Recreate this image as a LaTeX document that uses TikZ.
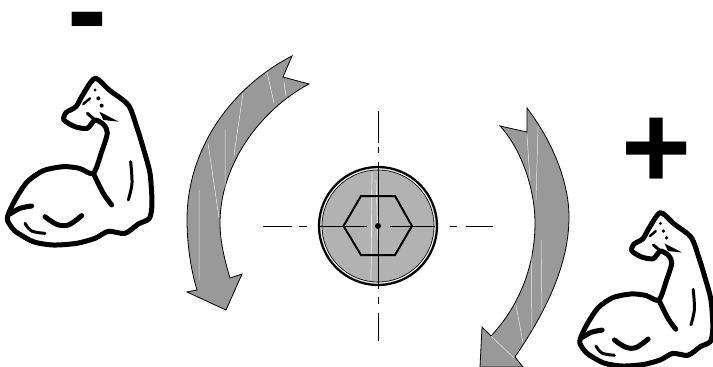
\documentclass[tikz,border=0pt]{standalone}
\usepackage{fontspec}
\setsansfont{Liberation Sans}
\usepackage{tikz}
\usetikzlibrary{positioning, calc}

\definecolor{arrowgray}{HTML}{999999}
\definecolor{screwgray}{HTML}{B2B2B2}

\tikzset{
    muscleline/.style={line width=5pt, line join=round, line cap=round},
    musclefill/.style={muscleline, fill=white},
    turnarrow/.style={draw=black, line width=0.8pt, fill=arrowgray, line join=miter},
    streak/.style={white!80!arrowgray, line width=0.5pt},
    centerline/.style={black, line width=0.9pt},
    signtext/.style={font=\fontsize{120}{120}\sffamily\bfseries, inner sep=0pt, text=black},
    % biceps drawn in the pixels of a 3x crop
    muscle/.pic={
        \begin{scope}[scale=1/3]
            \draw[musclefill] plot[smooth cycle, tension=0.45] coordinates {
                (285,25) (330,62) (385,105) (410,170) (430,235) (450,310) (456,400) (448,445)
                (415,462) (375,490) (325,484) (285,505) (230,520) (160,525) (100,515) (45,483)
                (22,450) (28,425) (48,385) (82,335) (130,302) (190,290) (238,295) (280,310)
                (305,245) (322,190) (312,165) (285,150) (262,175) (225,170) (192,150) (198,128)
                (228,110) (248,75)};
            % inner folds
            \draw[muscleline] plot[smooth, tension=0.5] coordinates {(280,310) (310,370) (335,405)};
            \draw[muscleline, line width=3pt] plot[smooth, tension=0.5] coordinates {(392,275) (396,340) (385,390)};
            \draw[muscleline] plot[smooth, tension=0.6] coordinates {(135,440) (170,463) (205,465) (245,437)};
            \draw[muscleline, line width=3pt] plot[smooth, tension=0.6] coordinates {(75,460) (95,483) (135,490)};
            \draw[muscleline] plot[smooth, tension=0.6] coordinates {(30,432) (60,415) (95,408)};
            % fingers
            \draw[muscleline, line width=2.4pt] (250,102) -- (270,85);
            \draw[muscleline, line width=3pt] (262,130) -- (285,150);
            \fill (298,125) -- (356,155) -- (310,150) -- cycle;
            \fill (285,60) circle (5) (295,85) circle (6) (305,107) circle (6);
        \end{scope}
    }
}

\begin{document}
\begin{tikzpicture}[x=1pt, y=-1pt]
    \useasboundingbox (0,0) rectangle (713,367);

    % Segni
    \node[signtext] (minus) at (87.5,31.5) {-};
    \node[signtext] (plus) at (657,153) {+};

    % Braccia
    \pic at (0,70) {muscle};
    \pic[scale=0.92] at (573,205) {muscle};

    % Freccia sinistra
    \draw[turnarrow] (292,56) .. controls (230,88) and (187,150) .. (187,220)
        .. controls (187,245) and (191,270) .. (197,290)
        -- (187,292) -- (226,310) -- (242,274) -- (230,278)
        .. controls (224,258) and (220,240) .. (220,223)
        .. controls (220,165) and (260,110) .. (309,84)
        -- (283,77) -- cycle;
    \draw[streak] (199,190) -- (199,280) (208,143) -- (219,218) (225,130) -- (225,190)
        (243,93) -- (234,155) (267,72) -- (274,103) (284,82) -- (286,96);

    % Freccia destra
    \draw[turnarrow] (527,108) .. controls (555,145) and (569,185) .. (569,217)
        .. controls (569,270) and (540,320) .. (515,357)
        -- (523,367) -- (480,367) -- (482,327) -- (491,336)
        .. controls (520,305) and (535,265) .. (535,223)
        .. controls (535,190) and (522,150) .. (500,126)
        -- (527,132) -- cycle;
    \draw[streak] (527,135) -- (530,180) (538,126) -- (536,200) (531,240) -- (532,330)
        (541,240) -- (542,310) (516,305) -- (523,343) (491,336) -- (514,358);

    % Vite
    \fill[screwgray] (378,226) circle (59);
    \draw[black, line width=2.2pt] (378,226) circle (59);
    \draw[white, line width=0.7pt] (378,226) circle (57);
    \draw[black, line width=0.6pt] (378,226) circle (56);
    \draw[streak, line width=0.7pt] (372,172) -- (371,280) (376,180) -- (378,240);
    \draw[black, line width=2pt, line join=miter] (343.5,226) -- (361,196) -- (395,196) -- (412,226) -- (395,255) -- (361,255) -- cycle;

    % Assi
    \draw[centerline] (263,226) -- (292,226) (299,226) -- (307,226) (318,226) -- (367,226)
        (390,226) -- (435,226) (450,226) -- (457,226) (466,226) -- (493,226);
    \draw[centerline] (378,111) -- (378,143) (378,147) -- (378,153) (378,162) -- (378,289)
        (378,297) -- (378,304) (378,313) -- (378,341);
    \fill[black] (378,226) circle (3);
\end{tikzpicture}
\end{document}
